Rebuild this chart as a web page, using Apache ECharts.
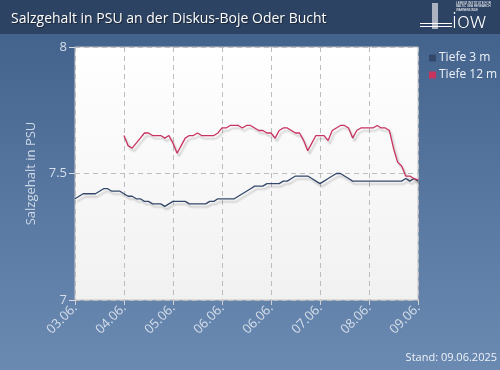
<!DOCTYPE html>
<html>
<head>
<meta charset="utf-8">
<script src="https://cdn.jsdelivr.net/npm/echarts@6/dist/echarts.min.js"></script>
<style>
html,body{margin:0;padding:0;}
#c{width:500px;height:370px;background:linear-gradient(to bottom,#3f5f89 0%,#5676a0 50%,#6a8ab2 100%);}
</style>
</head>
<body>
<div id="c"></div>
<script>
// Time ticks (x axis labels), one per 24 hours
const tickLabels = ['03.06.', '04.06.', '05.06.', '06.06.', '06.06.', '07.06.', '08.06.', '09.06.'];
// Sampling step in hours
const stepHours = 2;
// Tiefe 3 m, from 03.06. 00:00, every 2 hours
const tiefe3 = [
  7.40, 7.41, 7.42, 7.42, 7.42, 7.42, 7.43, 7.44, 7.44, 7.43, 7.43, 7.43,
  7.42, 7.41, 7.41, 7.40, 7.40, 7.39, 7.39, 7.38, 7.38, 7.38, 7.37, 7.38,
  7.39, 7.39, 7.39, 7.39, 7.38, 7.38, 7.38, 7.38, 7.38, 7.39, 7.39, 7.40,
  7.40, 7.40, 7.40, 7.40, 7.41, 7.42, 7.43, 7.44, 7.45, 7.45, 7.45, 7.46,
  7.46, 7.46, 7.46, 7.47, 7.47, 7.48, 7.49, 7.49, 7.49, 7.49, 7.48, 7.47,
  7.46, 7.47, 7.48, 7.49, 7.50, 7.50, 7.49, 7.48, 7.47, 7.47, 7.47, 7.47,
  7.47, 7.47, 7.47, 7.47, 7.47, 7.47, 7.47, 7.47, 7.47, 7.48, 7.47, 7.48,
  7.47
];
// Tiefe 12 m, starts 04.06. 00:00 (hour 24), every 2 hours
const tiefe12Start = 24;
const tiefe12 = [
  7.65, 7.61, 7.60, 7.62, 7.64, 7.66, 7.66, 7.65, 7.65, 7.65, 7.64, 7.65,
  7.62, 7.58, 7.61, 7.64, 7.65, 7.65, 7.66, 7.65, 7.65, 7.65, 7.65, 7.66,
  7.68, 7.68, 7.69, 7.69, 7.69, 7.68, 7.69, 7.69, 7.68, 7.67, 7.67, 7.66,
  7.66, 7.64, 7.67, 7.68, 7.68, 7.67, 7.66, 7.66, 7.63, 7.59, 7.62, 7.65,
  7.65, 7.65, 7.63, 7.67, 7.68, 7.69, 7.69, 7.68, 7.64, 7.67, 7.68, 7.68,
  7.68, 7.68, 7.69, 7.68, 7.68, 7.67, 7.60, 7.545, 7.53, 7.49, 7.49, 7.48,
  7.475
];
const yTicks = [7, 7.5, 8];

const pts3 = tiefe3.map((v, i) => [i * stepHours, v]);
const pts12 = tiefe12.map((v, i) => [tiefe12Start + i * stepHours, v]);

const chart = echarts.init(document.getElementById('c'), null, {renderer: 'canvas'});
const font = '"Open Sans", "DejaVu Sans", sans-serif';
const lineShadow = {shadowColor: 'rgba(0,0,0,0.22)', shadowBlur: 2, shadowOffsetX: 2, shadowOffsetY: 3};

chart.setOption({
  animation: false,
  textStyle: {fontFamily: font},
  graphic: [
    {type: 'rect', left: 0, top: 0, z: 0, shape: {width: 500, height: 34}, style: {fill: '#2d4363'}},
    {type: 'text', left: 452, top: 11, z: 10, style: {text: 'iow', fill: '#ffffff', font: '300 22px "Open Sans", sans-serif'}},
    {type: 'text', left: 456, top: 1, z: 10, style: {text: 'LEIBNIZ INSTITUTE FOR\nBALTIC SEA RESEARCH\nWARNEMÜNDE', fill: '#ffffff', font: '3px sans-serif', lineHeight: 3.5, align: 'left'}},
    {type: 'rect', left: 420, top: 23, z: 10, shape: {width: 32, height: 1}, style: {fill: '#ffffff'}},
    {type: 'rect', left: 420, top: 26, z: 10, shape: {width: 32, height: 1}, style: {fill: '#ffffff'}},
    {type: 'rect', left: 432, top: 3, z: 10, shape: {width: 6, height: 26}, style: {fill: 'rgba(255,255,255,0.6)'}},
    {type: 'text', right: 3, top: 352, z: 10, style: {text: 'Stand: 09.06.2025', fill: '#eef2f8', font: '11px "Open Sans", sans-serif'}}
  ],
  title: {
    text: 'Salzgehalt in PSU an der Diskus-Boje Oder Bucht',
    left: 6, top: 7,
    textStyle: {color: '#ffffff', fontSize: 14, fontWeight: 'normal', fontFamily: font, textShadowColor: 'rgba(0,0,0,0.5)', textShadowOffsetX: 1, textShadowOffsetY: 1, textShadowBlur: 1}
  },
  legend: {
    orient: 'vertical', left: 424, top: 47,
    itemWidth: 7, itemHeight: 7, itemGap: 5, icon: 'rect',
    textStyle: {color: '#eef2f8', fontSize: 12, fontFamily: font, padding: [0, 0, 0, -2]},
    data: ['Tiefe 3 m', 'Tiefe 12 m']
  },
  grid: {
    left: 75, right: 82, top: 47, bottom: 70, show: true,
    backgroundColor: new echarts.graphic.LinearGradient(0, 0, 0, 1, [{offset: 0, color: '#ffffff'}, {offset: 1, color: '#f1f1f1'}]),
    borderColor: '#c4c4c4', borderWidth: 1
  },
  xAxis: {
    type: 'value', min: 0, max: 168, interval: 24,
    axisLine: {show: false},
    axisTick: {show: true, length: 5, lineStyle: {color: '#d0d0d0'}},
    splitLine: {show: true, lineStyle: {color: '#bdbdbd', type: [5, 4], width: 1}},
    axisLabel: {
      rotate: 45, color: '#d6dfea', fontSize: 13, margin: 6, fontFamily: font,
      formatter: v => tickLabels[Math.round(v / 24)]
    }
  },
  yAxis: {
    type: 'value', min: yTicks[0], max: yTicks[yTicks.length - 1], interval: 0.5,
    name: 'Salzgehalt in PSU', nameLocation: 'middle', nameGap: 37,
    nameTextStyle: {color: '#cdd8e6', fontSize: 13, fontFamily: font},
    axisLine: {show: false},
    axisTick: {show: true, length: 6, lineStyle: {color: '#d8dde4'}},
    splitLine: {show: true, lineStyle: {color: '#bdbdbd', type: [5, 4], width: 1}},
    axisLabel: {color: '#d6dfea', fontSize: 13, margin: 8, fontFamily: font, formatter: v => String(v)}
  },
  series: [
    {
      name: 'Tiefe 3 m', type: 'line', data: pts3, showSymbol: false, symbol: 'none',
      itemStyle: {color: '#33486a'},
      lineStyle: Object.assign({color: '#33486a', width: 1.3}, lineShadow)
    },
    {
      name: 'Tiefe 12 m', type: 'line', data: pts12, showSymbol: false, symbol: 'none',
      itemStyle: {color: '#c8335f'},
      lineStyle: Object.assign({color: '#c8335f', width: 1.3}, lineShadow)
    }
  ]
});
</script>
</body>
</html>
